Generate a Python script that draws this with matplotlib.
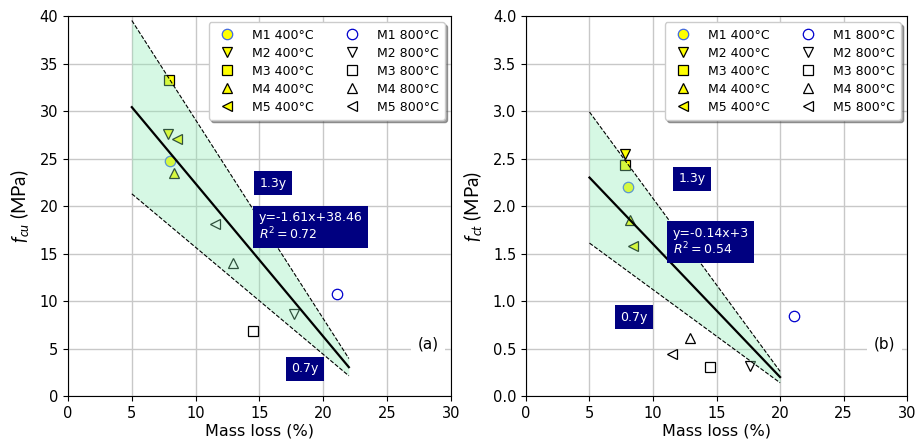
import matplotlib
matplotlib.use("Agg")
import matplotlib.pyplot as plt
import numpy as np

plt.rcParams['mathtext.fontset'] = 'dejavusans'
plt.rcParams['mathtext.it'] = 'Lato:italic'
plt.rcParams['mathtext.rm'] = 'Lato'
plt.rcParams['mathtext.sf'] = 'Lato'
plt.rcParams['mathtext.bf'] = 'Lato:bold'

# ---- data: compressive (fcu) ----
labels = ["M1", "M2", "M3", "M4", "M5"]
markers = ["o", "v", "s", "^", "<"]
x400_a = [8.0, 7.8, 7.9, 8.3, 8.5]
y400_a = [24.7, 27.6, 33.3, 23.5, 27.1]
x800_a = [21.1, 17.7, 14.5, 12.9, 11.5]
y800_a = [10.7, 8.6, 6.8, 14.0, 18.1]
slope_a, icpt_a, r2_a = -1.61, 38.46, 0.72
xfit_a = [5, 22]

# ---- data: tensile (fct) ----
x400_b = [8.0, 7.8, 7.8, 8.2, 8.4]
y400_b = [2.2, 2.55, 2.43, 1.85, 1.58]
x800_b = [21.1, 17.6, 14.5, 12.9, 11.5]
y800_b = [0.84, 0.32, 0.31, 0.61, 0.44]
slope_b, icpt_b, r2_b = -0.14, 3.0, 0.54
xfit_b = [5, 20]

fill_color = (0.55, 0.93, 0.70)

fig = plt.figure(figsize=(9.2, 4.46), dpi=100)
axA = fig.add_axes([0.0739, 0.112, 0.4163, 0.852])
axB = fig.add_axes([0.5717, 0.112, 0.4143, 0.852])


def draw(ax, x4, y4, x8, y8, slope, icpt, r2, xfit, ylim, ystep, ylabel, tag,
         pos13, poseq, pos07, fmt):
    for i in range(5):
        ec4 = 'royalblue' if markers[i] == 'o' else 'black'
        ax.plot(x4[i], y4[i], linestyle='none', marker=markers[i], ms=7.5,
                mfc='yellow', mec=ec4, mew=0.9, label=f"{labels[i]} 400°C", zorder=3)
    for i in range(5):
        ec8 = 'mediumblue' if markers[i] == 'o' else 'black'
        ax.plot(x8[i], y8[i], linestyle='none', marker=markers[i], ms=7.5,
                mfc='none', mec=ec8, mew=0.9, label=f"{labels[i]} 800°C", zorder=3)
    xf = np.array(xfit, dtype=float)
    yf = slope * xf + icpt
    ax.fill_between(xf, 0.7 * yf, 1.3 * yf, color=fill_color, alpha=0.35,
                    lw=0, zorder=5)
    ax.plot(xf, yf, color='black', lw=1.6, zorder=6)
    ax.plot(xf, 1.3 * yf, color='black', lw=0.8, ls='--', zorder=6)
    ax.plot(xf, 0.7 * yf, color='black', lw=0.8, ls='--', zorder=6)
    ax.set_xlim(0, 30)
    ax.set_ylim(*ylim)
    ax.set_xticks(np.arange(0, 31, 5))
    ax.set_yticks(np.arange(ylim[0], ylim[1] + ystep / 2, ystep))
    ax.yaxis.set_major_formatter(matplotlib.ticker.FormatStrFormatter(fmt))
    ax.tick_params(labelsize=10.5)
    ax.grid(True, color='#c8c8c8', lw=1)
    ax.set_axisbelow(True)
    ax.set_xlabel("Mass loss (%)", fontsize=11.5, labelpad=2)
    ax.set_ylabel(ylabel, fontsize=13.5, family='Lato', math_fontfamily='custom',
                  labelpad=6)
    bb = dict(facecolor='navy', edgecolor='none', pad=4)
    ax.text(pos13[0], pos13[1], "1.3y", color='white', fontsize=9,
            ha='center', va='center', bbox=bb, zorder=8)
    ax.text(poseq[0], poseq[1], f"y={slope:g}x+{icpt:g}\n$R^2 = {r2:.2f}$",
            color='white', fontsize=9, ha='left', va='center', bbox=bb, zorder=8,
            linespacing=1.1)
    ax.text(pos07[0], pos07[1], "0.7y", color='white', fontsize=9,
            ha='center', va='center', bbox=bb, zorder=8)
    ax.text(28.2, ylim[1] * 0.1375, tag, fontsize=11, ha='center', va='center',
            bbox=dict(facecolor='white', edgecolor='none', pad=5), zorder=8)
    leg = ax.legend(ncol=2, loc='upper right', fontsize=9, shadow=True,
                    fancybox=True, framealpha=1, columnspacing=2.0,
                    handletextpad=1.0, borderpad=0.5, labelspacing=0.4)
    leg.get_frame().set_edgecolor('#cccccc')
    leg.set_zorder(9)


draw(axA, x400_a, y400_a, x800_a, y800_a, slope_a, icpt_a, r2_a, xfit_a,
     (0, 40), 5, r'$f_{cu}$ (MPa)', "(a)", (16.05, 22.4), (14.95, 17.8),
     (18.55, 2.85), '%d')
draw(axB, x400_b, y400_b, x800_b, y800_b, slope_b, icpt_b, r2_b, xfit_b,
     (0, 4.0), 0.5, r'$f_{ct}$ (MPa)', "(b)", (13.05, 2.29), (11.55, 1.62),
     (8.5, 0.83), '%.1f')

fig.savefig("out.png", dpi=100)
